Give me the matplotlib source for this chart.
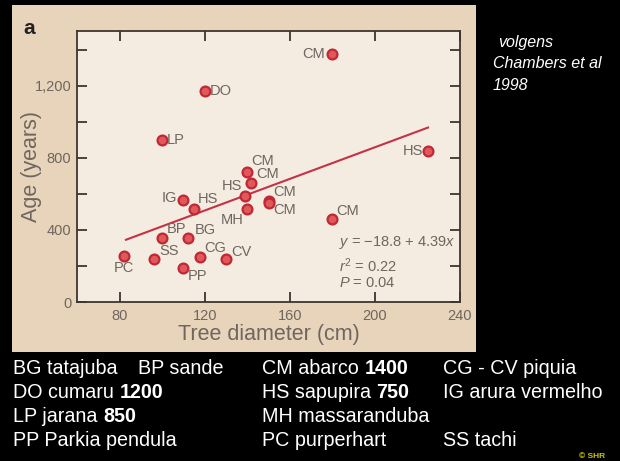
import matplotlib
matplotlib.use("Agg")
import matplotlib.pyplot as plt
from matplotlib.patches import Rectangle

# ---- data ----
labels = ["CM", "DO", "LP", "HS", "CM", "CM", "HS", "MH", "CM", "CM",
          "IG", "HS", "BP", "BG", "SS", "CG", "CV", "PP", "PC", "CM"]
diam = [180, 120, 100, 225, 140, 142, 139, 140, 150, 150,
        110, 115, 100, 112, 96, 118, 130, 110, 82, 180]
age = [1380, 1170, 900, 840, 720, 660, 590, 515, 560, 552,
       565, 515, 355, 355, 240, 250, 240, 190, 255, 460]
# label offsets in pixels (dx, dy) and alignment
offsets = [(-7, 0, "right", "center"), (5, 0, "left", "center"), (5, 0, "left", "center"),
           (-5, 0, "right", "center"), (4, 4, "left", "bottom"), (5, 2, "left", "bottom"),
           (-3, 3, "right", "bottom"), (-4, -4, "right", "top"), (5, 2, "left", "bottom"),
           (5, 0, "left", "top"), (-6, 2, "right", "center"), (4, 3, "left", "bottom"),
           (5, 2, "left", "bottom"), (7, 1, "left", "bottom"), (6, 1, "left", "bottom"),
           (4, 2, "left", "bottom"), (5, 0, "left", "bottom"), (4, -1, "left", "top"),
           (0, -5, "center", "top"), (4, 1, "left", "bottom")]
intercept, slope = -18.8, 4.39
fit_x = [83, 225]
xticks = [80, 120, 160, 200, 240]
yticks = [0, 400, 800, 1200]
ytick_labels = ["0", "400", "800", "1,200"]
ytick_minor = [200, 600, 1000, 1400]

legend_rows = [
    [("BG tatajuba", None), ("BP sande", None), ("CM abarco ", "1400"), ("CG - CV piquia", None)],
    [("DO cumaru ", "1200"), None, ("HS sapupira ", "750"), ("IG arura vermelho", None)],
    [("LP jarana ", "850"), None, ("MH massaranduba", None), None],
    [("PP Parkia pendula", None), None, ("PC purperhart", None), ("SS tachi", None)],
]
col_x = [13, 138, 262, 443]
row_y = [368, 392, 416, 440]

W, H = 620, 461
plt.rcParams["font.family"] = ["Liberation Sans", "DejaVu Sans"]
plt.rcParams["mathtext.fontset"] = "custom"
plt.rcParams["mathtext.it"] = "Liberation Sans:italic"
plt.rcParams["mathtext.rm"] = "Liberation Sans"

fig = plt.figure(figsize=(6.2, 4.61), dpi=100)
fig.patch.set_facecolor("black")

# beige panel
fig.patches.append(Rectangle((12 / W, 1 - 352 / H), 464 / W, 347 / H,
                             transform=fig.transFigure, facecolor="#E8D4BA",
                             edgecolor="none", zorder=-5))

ax = fig.add_axes([77 / W, 1 - 302 / H, 383 / W, 271 / H])
ax.set_zorder(2)
ax.set_facecolor("#F4ECE0")
ax.set_xlim(60, 240)
ax.set_ylim(0, 1505)

gray = "#6E6660"
spine_c = "#3E3530"
for s in ax.spines.values():
    s.set_color(spine_c)
    s.set_linewidth(1.3)

ax.set_xticks(xticks)
ax.set_xticklabels([str(v) for v in xticks])
ax.set_yticks(yticks)
ax.set_yticklabels(ytick_labels)
ax.set_yticks(ytick_minor, minor=True)
ax.tick_params(axis="both", which="both", direction="in", length=7, width=1.3,
               color=spine_c, labelcolor=gray, labelsize=10.5, top=True, right=True)
ax.tick_params(axis="x", pad=5)
ax.tick_params(axis="y", pad=4)

ax.set_xlabel("Tree diameter (cm)", fontsize=15.5, color=gray, labelpad=1)
ax.set_ylabel("Age (years)", fontsize=15.5, color=gray, labelpad=-5)

fit_y = [intercept + slope * v for v in fit_x]
ax.plot(fit_x, fit_y, color="#C43246", lw=1.5, zorder=2)

ax.scatter(diam, age, s=50, facecolor="#E05858", edgecolor="#C02838",
           linewidth=1.6, zorder=3, clip_on=False)

for lab, x, y, (dx, dy, ha, va) in zip(labels, diam, age, offsets):
    ax.annotate(lab, (x, y), xytext=(dx, dy), textcoords="offset pixels",
                ha=ha, va=va, fontsize=10.5, color=gray, zorder=4)

ax.text(0.685, 0.221, "$y$ = \u221218.8 + 4.39$x$", transform=ax.transAxes,
        fontsize=10.5, color=gray, va="center", ha="left")
ax.text(0.685, 0.133, "$r^2$ = 0.22", transform=ax.transAxes,
        fontsize=10.5, color=gray, va="center", ha="left")
ax.text(0.685, 0.07, "$P$ = 0.04", transform=ax.transAxes,
        fontsize=10.5, color=gray, va="center", ha="left")

fig.text(23 / W, 1 - 28 / H, "a", fontsize=15, fontweight="bold", color="#222222",
         ha="left", va="center")

# right side note
for txt, x, y in [("volgens", 498, 42), ("Chambers et al", 493, 63), ("1998", 493, 85)]:
    fig.text(x / W, 1 - y / H, txt, fontsize=11.5, style="italic", color="white",
             ha="left", va="center")

# bottom legend text
fig.canvas.draw()
renderer = fig.canvas.get_renderer()
for r, row in enumerate(legend_rows):
    for c, item in enumerate(row):
        if item is None:
            continue
        normal, bold = item
        t = fig.text(col_x[c] / W, 1 - row_y[r] / H, normal, fontsize=14.2, color="white",
                     ha="left", va="center")
        if bold:
            bb = t.get_window_extent(renderer=renderer)
            fig.text(bb.x1 / W, 1 - row_y[r] / H, bold, fontsize=14.2, color="white",
                     fontweight="bold", ha="left", va="center")

fig.text(605 / W, 1 - 456 / H, "\u00a9 SHR", fontsize=6, color="#C8C800",
         ha="right", va="center", fontweight="bold")

fig.savefig("out.png", dpi=100, facecolor=fig.get_facecolor())
